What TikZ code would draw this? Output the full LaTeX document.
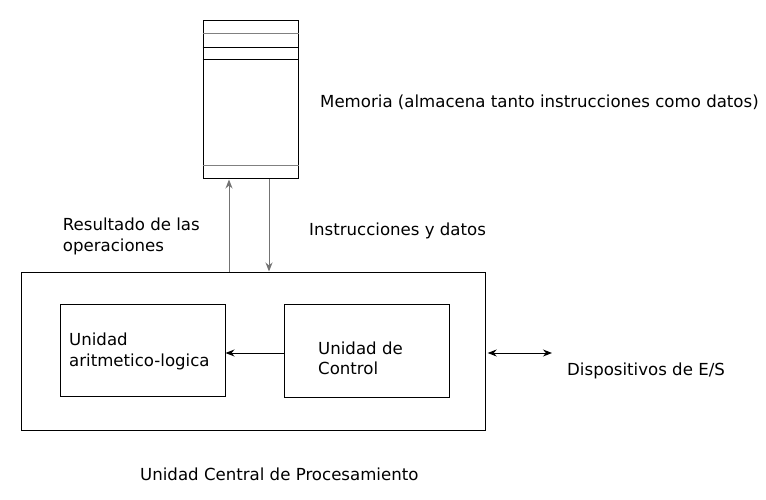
\documentclass[tikz,border=0pt]{standalone}
\usepackage{fontspec}
\setmainfont{DejaVu Sans}
\usetikzlibrary{arrows.meta,calc}

\begin{document}
\begin{tikzpicture}[x=1pt, y=-1pt, >={Stealth[length=9pt,width=7pt]},
        every node/.style={font=\fontsize{16.6}{20.5}\selectfont},
        box/.style={draw, line width=1pt, inner sep=0pt},
        flow/.style={->, line width=1pt},
        txt/.style={anchor=base west, inner sep=0pt, align=left}]
        \useasboundingbox (0,0) rectangle (766,500);
        % boxes
        \node[box, minimum width=95pt, minimum height=158pt] (mem) at (250.5,100) {};
        \node[box, minimum width=464pt, minimum height=158pt] (cpu) at (253.7,351) {};
        \node[box, minimum width=165pt, minimum height=92.4pt] (alu) at (142.5,350.5) {};
        \node[box, minimum width=165.3pt, minimum height=92.7pt] (ctrl) at (366.7,350.7) {};

        % memory cells
        \foreach \dy/\col in {12.7/gray, 26.7/black, 39/black, 144.7/gray}
            \draw[line width=1pt, \col] ($(mem.north west)+(0,\dy)$) -- ($(mem.north east)+(0,\dy)$);

        % labels
        \node[txt] (memtxt) at (320,107.5) {Memoria (almacena tanto instrucciones como datos)};
        \node[txt] (restxt) at (62.7,251) {Resultado de las\\operaciones};
        \node[txt] (instxt) at (309,235.5) {Instrucciones y datos};
        \node[txt] (alutxt) at (69,366) {Unidad\\aritmetico-logica};
        \node[txt] (ctrltxt) at (318,374.5) {Unidad de\\Control};
        \node[txt] (iotxt) at (567,375) {Dispositivos de E/S};
        \node[txt] (cputxt) at (140,480) {Unidad Central de Procesamiento};

        % connectors
        \coordinate (res) at (229,200);
        \coordinate (ins) at (269,200);
        \coordinate (cu) at (300,353);
        \coordinate (io) at (552,353);
        \draw[flow, gray!90!black] (cpu.north -| res) -- (mem.south -| res);
        \draw[flow, gray!90!black] (mem.south -| ins) -- (cpu.north -| ins);
        \draw[flow] (ctrl.west |- cu) -- (alu.east |- cu);
        \draw[flow, <->] ($(cpu.east |- io)+(1.5,0)$) -- (io);
    \end{tikzpicture}
\end{document}
